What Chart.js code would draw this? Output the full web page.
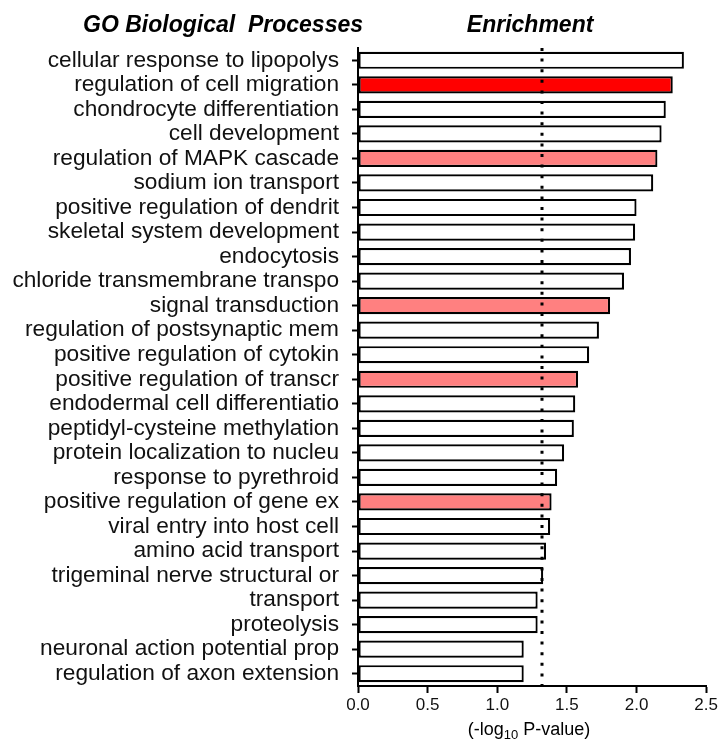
<!DOCTYPE html>
<html>
<head>
  <title>GO Biological Processes Enrichment</title>
  <style>
    html, body { margin: 0; padding: 0; background: #fff; }
    #chart { display: block; }
  </style>
</head>
<body>
  <canvas id="chart" width="720" height="740"></canvas>
  <script src="https://cdn.jsdelivr.net/npm/chart.js"></script>
  <script>
    // GO terms (truncated as in the figure), top to bottom
    const categories = [
      'cellular response to lipopolys',
      'regulation of cell migration',
      'chondrocyte differentiation',
      'cell development',
      'regulation of MAPK cascade',
      'sodium ion transport',
      'positive regulation of dendrit',
      'skeletal system development',
      'endocytosis',
      'chloride transmembrane transpo',
      'signal transduction',
      'regulation of postsynaptic mem',
      'positive regulation of cytokin',
      'positive regulation of transcr',
      'endodermal cell differentiatio',
      'peptidyl-cysteine methylation',
      'protein localization to nucleu',
      'response to pyrethroid',
      'positive regulation of gene ex',
      'viral entry into host cell',
      'amino acid transport',
      'trigeminal nerve structural or',
      'transport',
      'proteolysis',
      'neuronal action potential prop',
      'regulation of axon extension'
    ];

    // enrichment, -log10 P-value
    const enrichment = [
      2.34, 2.26, 2.21, 2.18, 2.15, 2.12, 2.00, 1.99, 1.96, 1.91,
      1.81, 1.73, 1.66, 1.58, 1.56, 1.55, 1.48, 1.43, 1.39, 1.38,
      1.35, 1.33, 1.29, 1.29, 1.19, 1.19
    ];

    // 0 = plain, 1 = highlighted, 2 = strongly highlighted
    const highlight = [
      0, 2, 0, 0, 1, 0, 0, 0, 0, 0,
      1, 0, 0, 1, 0, 0, 0, 0, 1, 0,
      0, 0, 0, 0, 0, 0
    ];

    const xTicks = [0, 0.5, 1.0, 1.5, 2.0, 2.5];
    const threshold = 1.32; // dotted significance line

    const FONT = '"Liberation Sans", Arial, Helvetica, sans-serif';
    const fillFor = ['#ffffff', '#ff8080', '#ff0000'];

    // titles, dotted line and the x axis title with its subscript
    const decorations = {
      id: 'decorations',
      afterDatasetsDraw(chart) {
        const { ctx, chartArea, scales } = chart;
        const x = Math.round(scales.x.getPixelForValue(threshold));
        ctx.save();
        ctx.strokeStyle = '#000';
        ctx.lineWidth = 3;
        ctx.lineCap = 'butt';
        ctx.setLineDash([3, 7.6]);
        ctx.beginPath();
        ctx.moveTo(x, chartArea.top);
        ctx.lineTo(x, chartArea.bottom);
        ctx.stroke();
        ctx.restore();
      },
      afterDraw(chart) {
        const { ctx, chartArea } = chart;
        ctx.save();
        ctx.fillStyle = '#000';
        ctx.textBaseline = 'alphabetic';

        ctx.font = 'italic bold 23px ' + FONT;
        ctx.textAlign = 'right';
        ctx.fillText('GO Biological  Processes', chartArea.left + 5, 32);
        ctx.textAlign = 'center';
        ctx.fillText('Enrichment', (chartArea.left + chartArea.right) / 2 - 2, 32);

        // "(-log10 P-value)" with subscript
        const parts = [
          { t: '(-log', size: 18, dy: 0 },
          { t: '10', size: 13, dy: 4 },
          { t: ' P-value)', size: 18, dy: 0 }
        ];
        let total = 0;
        parts.forEach(p => {
          ctx.font = p.size + 'px ' + FONT;
          p.w = ctx.measureText(p.t).width;
          total += p.w;
        });
        let cx = (chartArea.left + chartArea.right) / 2 - total / 2 - 3;
        const base = 735;
        ctx.textAlign = 'left';
        parts.forEach(p => {
          ctx.font = p.size + 'px ' + FONT;
          ctx.fillText(p.t, cx, base + p.dy);
          cx += p.w;
        });
        ctx.restore();
      }
    };

    new Chart(document.getElementById('chart'), {
      type: 'bar',
      data: {
        labels: categories,
        datasets: [{
          data: enrichment,
          backgroundColor: highlight.map(h => fillFor[h]),
          borderColor: '#000',
          borderWidth: 2.2,
          borderSkipped: false,
          categoryPercentage: 1,
          barPercentage: 0.7
        }]
      },
      options: {
        indexAxis: 'y',
        responsive: false,
        animation: false,
        layout: { padding: { top: 48, right: 12, left: 0, bottom: 0 } },
        plugins: {
          legend: { display: false },
          tooltip: { enabled: false }
        },
        scales: {
          x: {
            min: 0,
            max: 2.5,
            afterBuildTicks: s => { s.ticks = xTicks.map(v => ({ value: v })); },
            afterFit: s => { s.height = 54; },
            border: { color: '#000', width: 2 },
            grid: {
              drawOnChartArea: false,
              tickLength: 7,
              tickWidth: 2,
              tickColor: '#000'
            },
            ticks: {
              padding: 2,
              color: '#111',
              font: { family: FONT, size: 17 },
              callback: v => Number(v).toFixed(1),
              maxRotation: 0
            }
          },
          y: {
            afterFit: s => { s.width = 358; },
            border: { color: '#000', width: 2 },
            grid: {
              offset: false,
              drawOnChartArea: false,
              tickLength: 6,
              tickWidth: 2,
              tickColor: '#000'
            },
            ticks: {
              autoSkip: false,
              padding: 13,
              color: '#111',
              font: { family: FONT, size: 22.7 }
            }
          }
        }
      },
      plugins: [decorations]
    });
  </script>
</body>
</html>
